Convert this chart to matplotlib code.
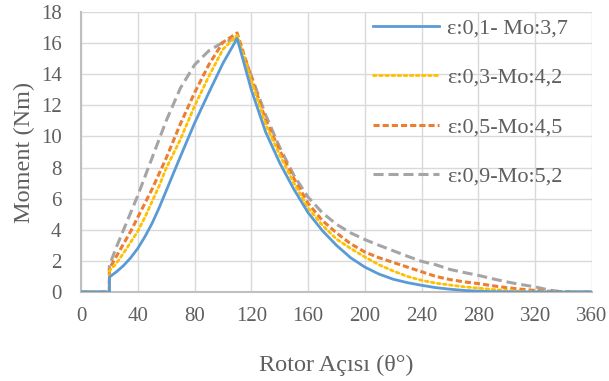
import numpy as np
import matplotlib
matplotlib.use("Agg")
import matplotlib.pyplot as plt

plt.rcParams['font.family'] = ['Liberation Serif', 'DejaVu Serif']

# Rotor açısı (derece) - 20'de sıçrama olduğu için 20 iki kez var
theta = [0, 10, 20, 20, 25, 30, 35, 40, 45, 50, 55, 60, 70, 80, 90, 100, 110,
         120, 130, 140, 150, 160, 170, 180, 190, 200, 210, 220, 230, 240, 250,
         260, 270, 280, 290, 300, 310, 320, 330, 340, 350, 360]

# Moment değerleri (Nm)
m_e01 = [0, 0, 0, 0.96, 1.3, 1.7, 2.2, 2.8, 3.55, 4.4, 5.4, 6.5, 8.7, 10.85,
         12.8, 14.7, 16.3, 13.0, 10.3, 8.3, 6.6, 5.1, 3.95, 3.0, 2.2, 1.6, 1.15,
         0.82, 0.6, 0.43, 0.28, 0.18, 0.1, 0.05, 0.02, 0.01, 0, 0, 0, 0, 0, 0]
m_e03 = [0, 0, 0, 1.35, 1.85, 2.5, 3.2, 3.9, 4.8, 5.8, 6.8, 7.95, 9.8, 11.95,
         13.85, 15.6, 16.5, 13.6, 10.8, 8.8, 7.0, 5.4, 4.3, 3.4, 2.8, 2.25, 1.75,
         1.35, 1.0, 0.75, 0.57, 0.45, 0.33, 0.25, 0.16, 0.1, 0.05, 0.02, 0.01, 0, 0, 0]
m_e05 = [0, 0, 0, 1.5, 2.3, 3.1, 3.9, 4.8, 5.7, 6.6, 7.6, 8.6, 10.8, 12.8,
         14.6, 16.05, 16.65, 13.8, 11.1, 9.1, 7.3, 5.7, 4.6, 3.8, 3.1, 2.57, 2.2,
         1.9, 1.6, 1.3, 1.0, 0.8, 0.65, 0.54, 0.4, 0.28, 0.18, 0.1, 0.05, 0.02, 0, 0]
m_e09 = [0, 0, 0, 1.7, 2.9, 4.0, 5.1, 6.2, 7.4, 8.6, 9.8, 11.0, 13.1, 14.6,
         15.5, 16.05, 16.3, 13.9, 11.4, 9.3, 7.5, 6.1, 5.1, 4.35, 3.8, 3.37, 3.0,
         2.65, 2.3, 1.97, 1.75, 1.45, 1.25, 1.07, 0.85, 0.65, 0.48, 0.33, 0.12, 0, 0, 0]

labels = ['ε:0,1- Mo:3,7', 'ε:0,3-Mo:4,2', 'ε:0,5-Mo:4,5', 'ε:0,9-Mo:5,2']

fig = plt.figure(figsize=(6.09, 3.81), dpi=100)
ax = fig.add_axes([0.133, 0.2336, 0.839, 0.735])

ax.plot(theta, m_e01, color='#5b9bd5', lw=2.0, label=labels[0], zorder=5)
ax.plot(theta, m_e03, color='#ffc000', lw=2.0, linestyle=(0, (1, 1.2)),
        dash_capstyle='round', label=labels[1], zorder=4)
ax.plot(theta, m_e05, color='#ed7d31', lw=2.2, linestyle=(0, (2.0, 1.0)),
        label=labels[2], zorder=3)
ax.plot(theta, m_e09, color='#a5a5a5', lw=2.2, linestyle=(0, (3.3, 1.6)),
        label=labels[3], zorder=2)

ax.set_xlim(0, 360)
ax.set_ylim(0, 18)
ax.set_xticks(np.arange(0, 361, 40))
ax.set_yticks(np.arange(0, 19, 2))
ax.grid(True, color='#d9d9d9', lw=1.0)
ax.set_axisbelow(True)

for s in ['top', 'right']:
    ax.spines[s].set_visible(False)
for s in ['left', 'bottom']:
    ax.spines[s].set_color('#bfbfbf')
    ax.spines[s].set_linewidth(1.5)

ax.tick_params(axis='both', length=0, labelsize=15, colors='#5f5f5f')
ax.tick_params(axis='x', pad=11)
ax.tick_params(axis='y', pad=14)

ax.set_xlabel('Rotor Açısı (θ°)', fontsize=17.5, color='#5f5f5f')
ax.set_ylabel('Moment (Nm)', fontsize=17.5, color='#5f5f5f')
ax.xaxis.set_label_coords(0.5, -0.225)
ax.yaxis.set_label_coords(-0.09, 0.5)

ax.legend(loc='upper left', bbox_to_anchor=(0.571, 0.979), frameon=False,
          fontsize=16, handlelength=3.0, handletextpad=0.35, labelspacing=1.3,
          borderpad=0, borderaxespad=0, labelcolor='#5f5f5f')

plt.savefig('out.png', dpi=100)
